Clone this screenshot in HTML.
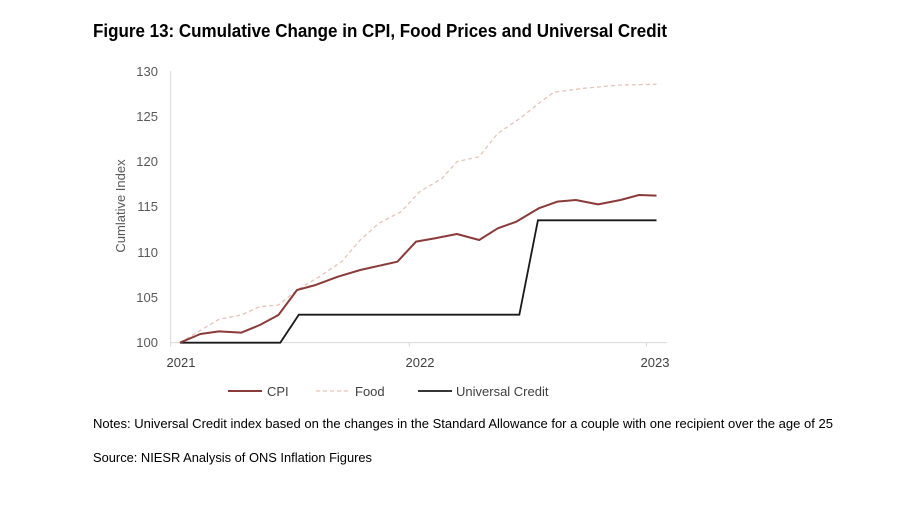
<!DOCTYPE html>
<html><head><meta charset="utf-8"><style>
body{margin:0;background:#fff;width:900px;height:520px;overflow:hidden;font-family:"Liberation Sans",sans-serif}
</style></head><body>
<svg width="900" height="520" viewBox="0 0 900 520" xmlns="http://www.w3.org/2000/svg" font-family="Liberation Sans, sans-serif">
<text x="93" y="37" font-size="18.5" font-weight="bold" fill="#000" textLength="574" lengthAdjust="spacingAndGlyphs">Figure 13: Cumulative Change in CPI, Food Prices and Universal Credit</text>
<g fill="#595959" font-size="13" text-anchor="end">
<text x="158" y="76">130</text><text x="158" y="121">125</text><text x="158" y="166">120</text>
<text x="158" y="211">115</text><text x="158" y="257">110</text><text x="158" y="302">105</text><text x="158" y="347">100</text>
</g>
<text transform="translate(125,206) rotate(-90)" font-size="13" fill="#595959" text-anchor="middle">Cumlative Index</text>
<g fill="#404040" font-size="13" text-anchor="middle">
<text x="181" y="367">2021</text><text x="420" y="367">2022</text><text x="655" y="367">2023</text>
</g>
<g transform="translate(100,60) scale(0.37175,0.33333)" fill="none">
<path d="M190 33 V848 H1525" stroke="#d9d9d9" stroke-width="1" vector-effect="non-scaling-stroke"/>
<path d="M832 848 v12 M1470 848 v12 M190 848 v12" stroke="#d9d9d9" vector-effect="non-scaling-stroke"/>
<path d="M215 848 L320 778 L380 765 L430 740 L480 735 L530 690 L590 650 L650 605 L700 540 L750 490 L810 455 L860 395 L920 355 L960 305 L1020 290 L1070 220 L1130 175 L1180 130 L1220 97 L1300 85 L1400 75 L1497 73" stroke="#e6c4b8" stroke-width="1.3" stroke-dasharray="4,3" vector-effect="non-scaling-stroke"/>
<path d="M215 848 L485 848 L535 764 L1128 764 L1178 481 L1497 481" stroke="#1a1a1a" stroke-width="1.8" vector-effect="non-scaling-stroke"/>
<path d="M215 848 L270 822 L320 814 L380 818 L430 795 L480 765 L530 690 L580 675 L640 650 L700 630 L760 615 L800 605 L850 545 L900 535 L960 522 L1020 540 L1070 505 L1120 485 L1180 445 L1230 425 L1280 420 L1340 433 L1400 420 L1450 405 L1497 407" stroke="#8b3a3a" stroke-width="2" stroke-linejoin="round" vector-effect="non-scaling-stroke"/>
</g>
<line x1="228" y1="391" x2="262" y2="391" stroke="#8b3a3a" stroke-width="2"/>
<text x="267" y="396" font-size="13" fill="#404040">CPI</text>
<line x1="316" y1="391" x2="350" y2="391" stroke="#e6c4b8" stroke-width="1.3" stroke-dasharray="4,3"/>
<text x="355" y="396" font-size="13" fill="#404040">Food</text>
<line x1="418" y1="391" x2="452" y2="391" stroke="#1a1a1a" stroke-width="1.8"/>
<text x="456" y="396" font-size="13" fill="#404040">Universal Credit</text>
<text x="93" y="428" font-size="13.2" fill="#000" textLength="740" lengthAdjust="spacingAndGlyphs">Notes: Universal Credit index based on the changes in the Standard Allowance for a couple with one recipient over the age of 25</text>
<text x="93" y="462" font-size="13.2" fill="#000" textLength="279" lengthAdjust="spacingAndGlyphs">Source: NIESR Analysis of ONS Inflation Figures</text>
</svg>
</body></html>
